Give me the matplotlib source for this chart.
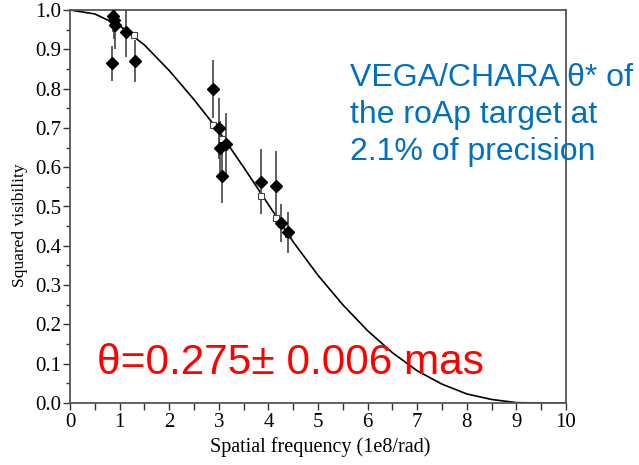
import matplotlib
matplotlib.use("Agg")
import matplotlib.pyplot as plt
from matplotlib.ticker import MultipleLocator

# Model curve (spatial frequency, squared visibility)
curve_x = [0.0, 0.5, 1.0, 1.5, 2.0, 2.5, 3.0, 3.5, 4.0, 4.5, 5.0, 5.5,
           6.0, 6.5, 7.0, 7.5, 8.0, 8.5, 9.0, 9.5, 10.0]
curve_y = [1.000, 0.990, 0.960, 0.911, 0.846, 0.772, 0.692, 0.600, 0.505,
           0.410, 0.325, 0.250, 0.184, 0.128, 0.082, 0.048, 0.023, 0.009,
           0.001, 0.000, 0.000]

# Measurements (filled diamonds with error bars)
obs_x = [0.87, 0.89, 0.91, 0.853, 1.129, 1.304, 2.877, 3.01, 3.024, 3.145,
         3.07, 3.85, 4.153, 4.25, 4.40]
obs_y = [0.985, 0.975, 0.962, 0.864, 0.945, 0.871, 0.799, 0.699, 0.648,
         0.659, 0.577, 0.563, 0.552, 0.458, 0.434]
obs_err = [0.04, 0.05, 0.06, 0.045, 0.065, 0.053, 0.075, 0.077, 0.07,
           0.08, 0.068, 0.083, 0.088, 0.048, 0.053]

# Model values at the measured frequencies (open squares)
mod_x = [0.89, 1.30, 2.877, 3.07, 3.85, 4.153, 4.25, 4.40]
mod_y = [0.968, 0.936, 0.707, 0.673, 0.527, 0.472, 0.455, 0.430]

xticks = [0, 1, 2, 3, 4, 5, 6, 7, 8, 9, 10]
yticks = [0.0, 0.1, 0.2, 0.3, 0.4, 0.5, 0.6, 0.7, 0.8, 0.9, 1.0]

W, H = 639, 465
fig = plt.figure(figsize=(W / 100, H / 100), dpi=100)
ax = fig.add_axes([70 / W, 1 - 403 / H, (566 - 70) / W, (403 - 10) / H])

serif = "Liberation Serif"
sans = "Liberation Sans"

ax.plot(curve_x, curve_y, color="black", lw=1.2, zorder=2)
ax.errorbar(obs_x, obs_y, yerr=obs_err, fmt="none", ecolor="#444444",
            elinewidth=1.2, capsize=0, zorder=3)
ax.plot(mod_x, mod_y, ls="none", marker="s", ms=5, mfc="white",
        mec="#444444", mew=0.8, zorder=4)
ax.plot(obs_x, obs_y, ls="none", marker="D", ms=6.3, mfc="black",
        mec="black", zorder=5)

ax.set_xlim(0, 10)
ax.set_ylim(0, 1)
ax.set_xticks(xticks)
ax.set_xticklabels([str(t) for t in xticks])
ax.set_yticks(yticks)
ax.set_yticklabels([f"{t:.1f}" for t in yticks])
ax.xaxis.set_minor_locator(MultipleLocator(0.5))
ax.yaxis.set_minor_locator(MultipleLocator(0.05))
ax.tick_params(axis="x", which="both", direction="out", length=5, width=1,
               color="#333333", labelsize=15, pad=2)
ax.tick_params(axis="y", which="major", direction="out", length=5, width=1,
               color="#333333", labelsize=15, pad=1)
ax.tick_params(axis="y", which="minor", direction="out", length=3, width=1,
               color="#333333")
for lab in ax.get_xticklabels() + ax.get_yticklabels():
    lab.set_fontfamily(serif)
for sp in ax.spines.values():
    sp.set_color("#555555")
    sp.set_linewidth(1.3)

ax.set_xlabel("Spatial frequency (1e8/rad)", fontfamily=serif, fontsize=14.5)
ax.set_ylabel("Squared visibility", fontfamily=serif, fontsize=12.5)
ax.xaxis.set_label_coords((320 - 70) / 496, (403 - 437) / 393)
ax.yaxis.set_label_coords((28 - 70) / 496, (403 - 225) / 393)

blue = "#0070C0"
for i, line in enumerate(["VEGA/CHARA θ* of", "the roAp target at",
                          "2.1% of precision"]):
    fig.text(350 / W, 1 - (86 + 37 * i) / H, line, color=blue,
             fontfamily=sans, fontsize=23, ha="left", va="baseline")

fig.text(97 / W, 1 - 374 / H, "θ=0.275± 0.006 mas", color="red",
         fontfamily=sans, fontsize=30.5, ha="left", va="baseline")

fig.savefig("out.png", dpi=100)
